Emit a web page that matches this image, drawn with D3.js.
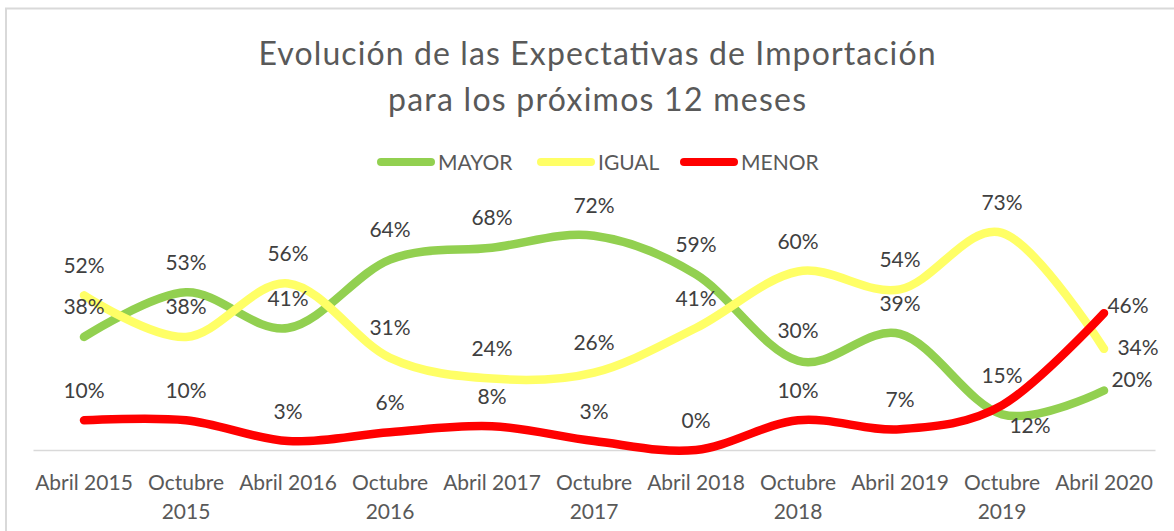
<html>
<head>
<meta charset="utf-8">
<script src="https://d3js.org/d3.v7.min.js"></script>
<style>
  body { margin: 0; background: #fff; }
  text { font-family: Lato, "Open Sans", sans-serif; }
</style>
</head>
<body>
<script>
var categories = ["Abril 2015", "Octubre 2015", "Abril 2016", "Octubre 2016", "Abril 2017",
                  "Octubre 2017", "Abril 2018", "Octubre 2018", "Abril 2019", "Octubre 2019", "Abril 2020"];
var mayor = [38, 53, 41, 64, 68, 72, 59, 30, 39, 12, 20];
var igual = [52, 38, 56, 31, 24, 26, 41, 60, 54, 73, 34];
var menor = [10, 10, 3, 6, 8, 3, 0, 10, 7, 15, 46];
var seriesNames = ["MAYOR", "IGUAL", "MENOR"];
var titleLines = ["Evolución de las Expectativas de Importación", "para los próximos 12 meses"];

var width = 1174, height = 531;
var plot = {left: 33, right: 1155, top: 212, bottom: 450};
var colors = {MAYOR: "#92D050", IGUAL: "#FFFF66", MENOR: "#FF0000"};

var series = [
  {name: "MAYOR", values: mayor},
  {name: "IGUAL", values: igual},
  {name: "MENOR", values: menor}
];

var svg = d3.select("body").append("svg")
    .attr("width", width)
    .attr("height", height);

// chart frame
svg.append("path")
    .attr("d", "M6,531 V8.5 H1174")
    .attr("fill", "none")
    .attr("stroke", "#d9d9d9")
    .attr("stroke-width", 2);

// title
var titleWidths = [677, 418];
svg.append("g").selectAll("text")
    .data(titleLines).enter()
    .append("text")
    .attr("x", 597)
    .attr("y", (d, i) => 65 + i * 46)
    .attr("text-anchor", "middle")
    .attr("fill", "#595959")
    .attr("font-size", 32)
    .attr("font-weight", 400)
    .attr("textLength", (d, i) => titleWidths[i])
    .attr("lengthAdjust", "spacing")
    .text(d => d);

// legend
var legendX = [377, 537, 680];
var legend = svg.append("g").selectAll("g")
    .data(seriesNames).enter()
    .append("g")
    .attr("transform", (d, i) => `translate(${legendX[i]},162)`);
legend.append("line")
    .attr("x1", 4).attr("x2", 54)
    .attr("stroke", d => colors[d])
    .attr("stroke-width", 8)
    .attr("stroke-linecap", "round");
legend.append("text")
    .attr("x", 61)
    .attr("y", 7.5)
    .attr("fill", "#595959")
    .attr("font-size", 21)
    .text(d => d);

var x = d3.scaleBand()
    .domain(categories)
    .range([plot.left, plot.right]);

var y = d3.scaleLinear()
    .domain([0, 80])
    .range([plot.bottom, plot.top]);

// x axis
var xAxis = svg.append("g")
    .attr("transform", `translate(0,${plot.bottom})`)
    .call(d3.axisBottom(x).tickSize(0).tickPadding(0));
xAxis.select(".domain").attr("stroke", "#d9d9d9").attr("stroke-width", 1.5);
xAxis.selectAll(".tick text").remove();
xAxis.selectAll(".tick").each(function(d) {
  var parts = d.length > 10 ? d.split(" ") : [d];
  var t = d3.select(this).append("text")
      .attr("fill", "#595959")
      .attr("font-size", 21)
      .attr("text-anchor", "middle");
  parts.forEach((p, i) => {
    t.append("tspan").attr("x", 0).attr("y", 40 + i * 29).text(p);
  });
});

var line = d3.line()
    .x((d, i) => x(categories[i]) + x.bandwidth() / 2)
    .y(d => y(d))
    .curve(d3.curveCardinal.tension(0));

svg.append("g").selectAll("path")
    .data(series).enter()
    .append("path")
    .attr("d", d => line(d.values))
    .attr("fill", "none")
    .attr("stroke", d => colors[d.name])
    .attr("stroke-width", 8.5)
    .attr("stroke-linecap", "round")
    .attr("stroke-linejoin", "round");

// data labels: default above the point, a few moved by hand
var labelShift = {
  "MAYOR-9": [28, 11],
  "MAYOR-10": [28, -11],
  "IGUAL-10": [34, -1],
  "MENOR-10": [24, -8]
};
series.forEach(function(s) {
  svg.append("g").selectAll("text")
    .data(s.values).enter()
    .append("text")
    .attr("x", (d, i) => x(categories[i]) + x.bandwidth() / 2 + (labelShift[s.name + "-" + i] || [0, -30])[0])
    .attr("y", (d, i) => y(d) + (labelShift[s.name + "-" + i] || [0, -30])[1] + 7.5)
    .attr("text-anchor", "middle")
    .attr("fill", "#404040")
    .attr("font-size", 21)
    .text(d => d + "%");
});
</script>
</body>
</html>
